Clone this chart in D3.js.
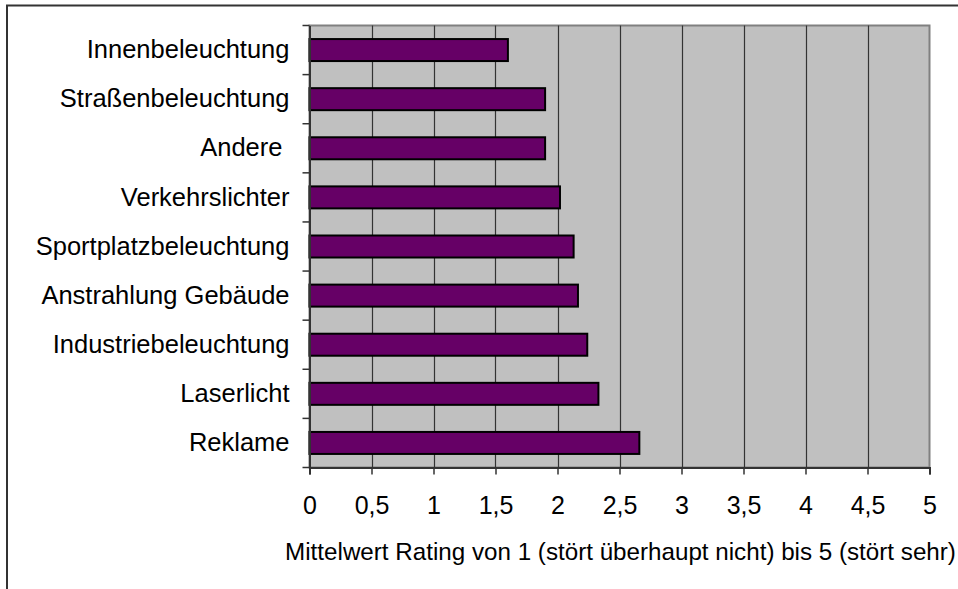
<!DOCTYPE html>
<html>
<head>
<meta charset="utf-8">
<script src="https://cdn.jsdelivr.net/npm/d3@7"></script>
<style>
  body { margin: 0; background: #fff; overflow: hidden; }
  svg { display: block; }
  svg text { font-family: "Liberation Sans", Arial, sans-serif; fill: #000; }
</style>
</head>
<body>
<div id="chart"></div>
<script>
// data (top to bottom)
var categories = ["Innenbeleuchtung", "Straßenbeleuchtung", "Andere ", "Verkehrslichter",
  "Sportplatzbeleuchtung", "Anstrahlung Gebäude", "Industriebeleuchtung", "Laserlicht", "Reklame"];
var values = [1.60, 1.90, 1.90, 2.02, 2.13, 2.165, 2.24, 2.33, 2.66];
var xTicks = [0, 0.5, 1, 1.5, 2, 2.5, 3, 3.5, 4, 4.5, 5];
var xTitle = "Mittelwert Rating von 1 (stört überhaupt nicht) bis 5 (stört sehr)";

var W = 958, H = 589;
var plot = {left: 309.5, top: 25.5, right: 929.5, bottom: 467.5};

var svg = d3.select("#chart").append("svg")
  .attr("width", W).attr("height", H);

// outer chart frame (runs off the right and bottom)
svg.append("rect")
  .attr("x", 7).attr("y", 5.5)
  .attr("width", 1100).attr("height", 700)
  .attr("fill", "none").attr("stroke", "#333").attr("stroke-width", 2);

var x = d3.scaleLinear().domain([0, 5]).range([plot.left, plot.right]);
var yb = d3.scaleBand().domain(categories).range([plot.top, plot.bottom]);

// plot area
svg.append("rect")
  .attr("x", plot.left).attr("y", plot.top)
  .attr("width", plot.right - plot.left).attr("height", plot.bottom - plot.top)
  .attr("fill", "#c0c0c0").attr("stroke", "#808080").attr("stroke-width", 2);

// vertical gridlines
svg.append("g").selectAll("line")
  .data(xTicks.slice(1, -1))
  .enter().append("line")
  .attr("x1", function(d) { return Math.round(x(d)) + 0.5; })
  .attr("x2", function(d) { return Math.round(x(d)) + 0.5; })
  .attr("y1", plot.top).attr("y2", plot.bottom)
  .attr("stroke", "#333").attr("stroke-width", 1.2);

// bars
svg.append("g").selectAll("rect")
  .data(values)
  .enter().append("rect")
  .attr("x", x(0))
  .attr("y", function(d, i) { return yb(categories[i]) + (yb.bandwidth() - 22) / 2; })
  .attr("width", function(d) { return x(d) - x(0); })
  .attr("height", 22)
  .attr("fill", "#660066").attr("stroke", "#000").attr("stroke-width", 2);

// x axis
var xAxis = svg.append("g")
  .attr("transform", "translate(0," + plot.bottom + ")")
  .call(d3.axisBottom(x).tickValues(xTicks).tickSize(7).tickPadding(22)
    .tickFormat(function(d) { return String(d).replace(".", ","); }));
xAxis.select(".domain").attr("stroke", "#333").attr("stroke-width", 2);
xAxis.selectAll(".tick line").attr("stroke", "#333").attr("stroke-width", 1.5);
xAxis.selectAll("text").attr("font-size", 25)
  .attr("font-family", "Liberation Sans, Arial, sans-serif");

// y axis: ticks on category boundaries
var yAxis = svg.append("g")
  .attr("transform", "translate(" + plot.left + ",0)")
  .call(d3.axisLeft(yb).tickSize(0).tickPadding(20));
yAxis.select(".domain").attr("stroke", "#333").attr("stroke-width", 2);
yAxis.selectAll("text").attr("font-size", 25.5)
  .style("white-space", "pre") // keep the trailing blank of "Andere "
  .attr("font-family", "Liberation Sans, Arial, sans-serif");

var bounds = categories.map(function(c) { return yb(c); }).concat([plot.bottom]);
svg.append("g").selectAll("line")
  .data(bounds)
  .enter().append("line")
  .attr("x1", plot.left - 7).attr("x2", plot.left)
  .attr("y1", function(d) { return d; }).attr("y2", function(d) { return d; })
  .attr("stroke", "#333").attr("stroke-width", 1.5);

// axis title
svg.append("text")
  .attr("x", (plot.left + plot.right) / 2 + 1)
  .attr("y", 560)
  .attr("text-anchor", "middle")
  .attr("font-size", 24.2)
  .text(xTitle);
</script>
</body>
</html>
